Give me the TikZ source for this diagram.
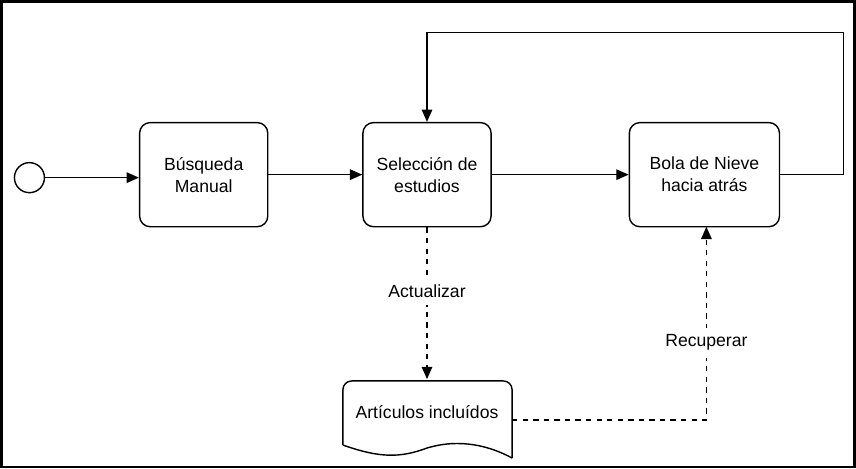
\documentclass[tikz,border=0pt]{standalone}
\usepackage{fontspec}
\setmainfont{Liberation Sans}
\usetikzlibrary{arrows.meta}

\begin{document}
\begin{tikzpicture}[x=0.02cm,y=-0.02cm,font=\fontsize{10}{12.5}\selectfont,
    >={Triangle[length=7pt,width=6pt]}]
    \tikzset{proc/.style={rectangle,rounded corners=6pt,draw=black,thick,minimum width=2.56cm,minimum height=2.08cm,align=center}}
    \draw[line width=1.6pt] (2,2) rectangle (854,467);
    \begin{scope}[every node/.style=proc]
        \node (busq) at (204,175) {Búsqueda\\Manual};
        \node (sel) at (427,175) {Selección de\\estudios};
        \node[minimum width=3cm] (bola) at (704,175) {Bola de Nieve\\hacia atrás};
    \end{scope}
    \node[circle,draw=black,thick,minimum size=0.6cm] (ini) at (30,178) {};
    \node[minimum width=3.4cm,minimum height=1.3cm] (doc) at (427,412) {Artículos incluídos};
    \draw[thick,rounded corners=5pt] (343,445) -- (343,381) -- (512,381) -- (512,458);
    \draw[thick] (343,445) .. controls (380,458) and (400,458) .. (427,448)
        .. controls (460,438) and (490,446) .. (512,458);
    \draw[thick,->] (ini) -- (ini -| busq.west);
    \draw[thick,->] (busq) -- (sel);
    \draw[thick,->] (sel) -- (sel -| bola.west);
    \draw[thick,->] (bola.east) -- (843,175) -- (843,33) -- (427,33) -- (sel.north);
    \draw[thick,dashed,->] (sel) -- node[fill=white,inner sep=4pt,pos=0.42]{Actualizar} (sel.south |- doc.north);
    \draw[thick,dashed,->] (512,420) -- (706,420) -- node[fill=white,inner sep=4pt,pos=0.4]{Recuperar} (706,227);
\end{tikzpicture}
\end{document}
